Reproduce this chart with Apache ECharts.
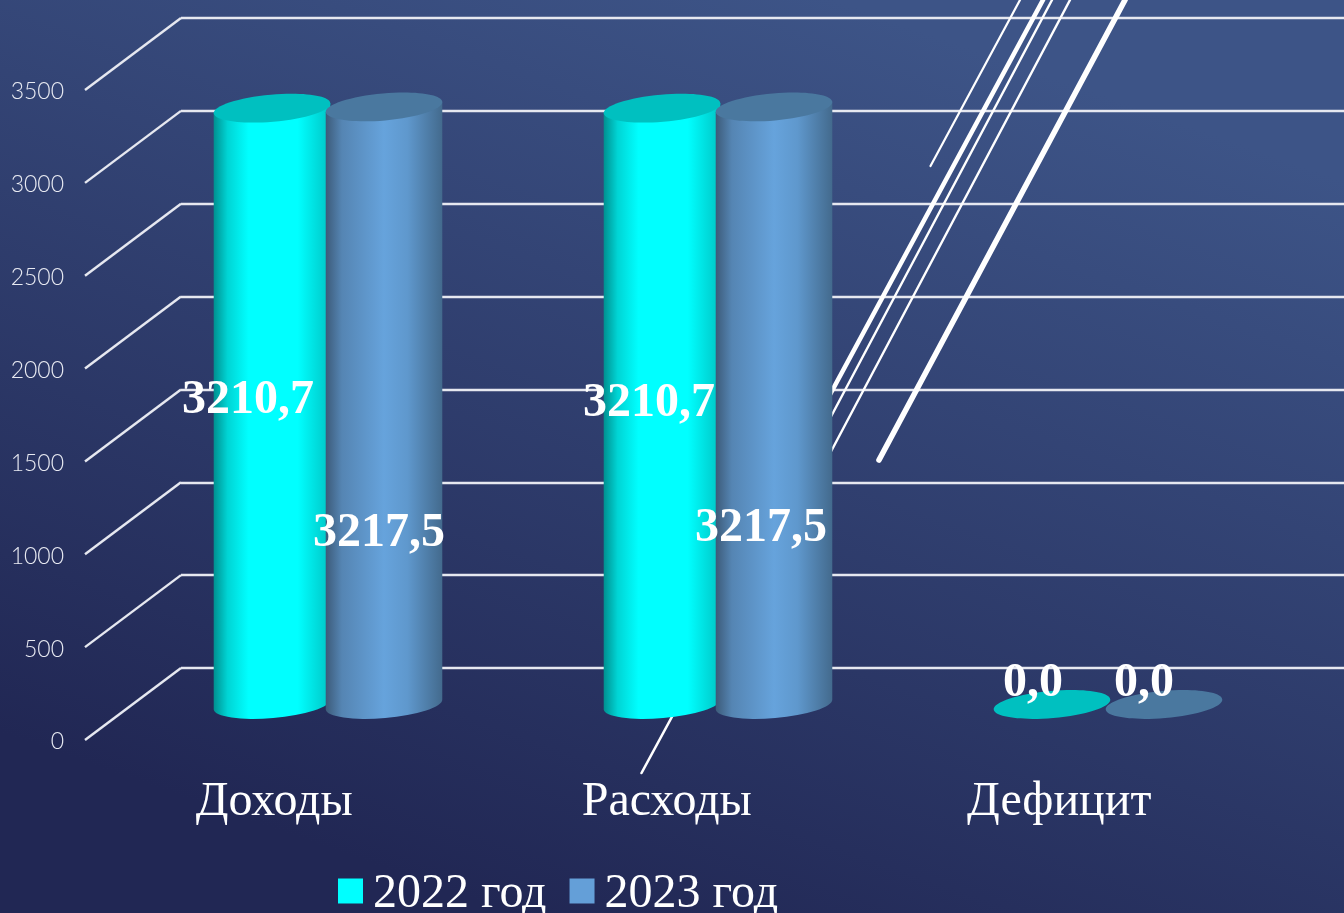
<!DOCTYPE html>
<html><head><meta charset="utf-8">
<style>html,body{margin:0;padding:0;background:#2c3765;overflow:hidden}#c{width:1344px;height:913px}</style>
<script src="https://cdn.jsdelivr.net/npm/echarts@6/dist/echarts.min.js"></script>
</head><body><div id="c"></div>
<script>
// ---- data ----
const categories = ['Доходы', 'Расходы', 'Дефицит'];
const seriesNames = ['2022 год', '2023 год'];
const values2022 = [3210.7, 3210.7, 0];
const values2023 = [3217.5, 3217.5, 0];
const tickInterval = 500;
const axisMax = 3500;

// ---- layout of the free-floating value labels (as in the reference) ----
const labelPos2022 = [[248, 401], [649, 404], [1033, 684]];
const labelPos2023 = [[379, 534], [761, 529], [1144, 684]];

// stray leader lines of the source slide: [x1,y1,x2,y2,width], in picture units
const leaderLines = [
  [930.5, 166, 1020, 0, 2.2],
  [826, 402, 1043, 0, 4.6],
  [826, 426, 1052, 0, 2.4],
  [826, 461, 1070, 0, 2.4],
  [879, 460, 1125, 0, 5.6],
  [641.5, 773, 674, 713, 2.6]
];

const SERIF = '"Liberation Serif","Times New Roman",serif';
const chart = echarts.init(document.getElementById('c'), null, {renderer: 'canvas'});

const styles = [
  {legend: '#00ffff', top: '#00c0c0', offset: -56, labels: labelPos2022, zBody: 4, zTop: 8,
   stops: [[0, '#008f8f'], [0.12, '#00d4d4'], [0.3, '#00ffff'], [0.72, '#00ffff'], [1, '#00c4c4']]},
  {legend: '#649fd8', top: '#4a789f', offset: 56, labels: labelPos2023, zBody: 5, zTop: 7,
   stops: [[0, '#3c5a78'], [0.14, '#5585b3'], [0.5, '#66a3dc'], [0.7, '#5f98cd'], [1, '#436a8d']]}
];
const fmt = v => v.toFixed(1).replace('.', ',');

function cylinder(style) {
  return function (params, api) {
    const base = api.coord([api.value(0), 0]);
    const top = api.coord([api.value(0), api.value(1)]);
    const cx = base[0] + style.offset;
    const rx = 58.5, ry = 13.5, rot = 5 * Math.PI / 180;
    const dx = rx * Math.cos(rot), dy = rx * Math.sin(rot);
    const children = [];
    if (base[1] - top[1] > 0) {
      children.push({
        type: 'path', z2: style.zBody,
        shape: {
          pathData: 'M' + (cx - dx) + ' ' + (top[1] + dy) +
            ' L' + (cx + dx) + ' ' + (top[1] - dy) +
            ' L' + (cx + dx) + ' ' + (base[1] - dy) +
            ' A' + rx + ' ' + ry + ' -5 0 1 ' + (cx - dx) + ' ' + (base[1] + dy) + ' Z',
          layout: 'none'
        },
        style: {fill: new echarts.graphic.LinearGradient(0, 0, 1, 0,
          style.stops.map(s => ({offset: s[0], color: s[1]})))}
      });
    }
    children.push({
      type: 'ellipse', z2: style.zTop,
      x: cx, y: top[1], rotation: rot,
      shape: {cx: 0, cy: 0, rx: rx, ry: ry},
      style: {fill: style.top}
    });
    const lp = style.labels[params.dataIndex];
    children.push({
      type: 'text', z2: 30, x: lp[0], y: lp[1],
      style: {text: fmt(api.value(1)), fill: '#ffffff', font: 'bold 48px ' + SERIF,
              align: 'center', verticalAlign: 'middle'}
    });
    return {type: 'group', children: children};
  };
}

function wallSides(params, api) {
  const p = api.coord([0, api.value(0)]);
  return {
    type: 'line',
    shape: {x1: params.coordSys.x + 7, y1: p[1], x2: 181, y2: p[1] - 72},
    style: {stroke: '#e6e8f0', lineWidth: 2.4}
  };
}

const ticks = [];
for (let v = 0; v <= axisMax; v += tickInterval) ticks.push(v);

const hiddenVal = {type: 'value', min: 0, max: axisMax, interval: tickInterval,
  axisLine: {show: false}, axisTick: {show: false}, axisLabel: {show: false}, splitLine: {show: false}};
const hiddenCat = {type: 'category', data: categories, axisLine: {show: false}, axisTick: {show: false},
  axisLabel: {show: false}, splitLine: {show: false}};

chart.setOption({
  animation: false,
  backgroundColor: new echarts.graphic.LinearGradient(0.38, 1, 0.62, 0, [
    {offset: 0, color: '#212754'}, {offset: 1, color: '#3d5487'}
  ]),
  legend: {
    data: seriesNames, left: 338, top: 870, padding: 0, itemGap: 23, itemWidth: 25, itemHeight: 25,
    icon: 'rect', selectedMode: false,
    formatter: '{a|{name}}',
    textStyle: {color: '#fff', fontFamily: SERIF, fontSize: 48,
      rich: {a: {color: '#fff', fontFamily: SERIF, fontSize: 48, padding: [6, 0, 0, 5]}}}
  },
  grid: [
    {left: 181, top: 18, width: 1163, height: 650},      // back wall
    {left: 133, top: 54.5, width: 1170, height: 650},    // column plane
    {left: 78, top: 90, width: 1177.5, height: 650},     // front edge
    {left: 0, top: 0, width: 1344, height: 913}          // picture-unit plane
  ],
  xAxis: [
    {gridIndex: 0, ...hiddenCat},
    {gridIndex: 1, ...hiddenCat},
    {gridIndex: 2, type: 'category', data: categories, axisLine: {show: false}, axisTick: {show: false},
     axisLabel: {color: '#fff', fontFamily: SERIF, fontSize: 48, margin: 38}},
    {gridIndex: 3, type: 'value', min: 0, max: 1344, show: false}
  ],
  yAxis: [
    {gridIndex: 0, ...hiddenVal, splitLine: {show: true, lineStyle: {color: '#e6e8f0', width: 2.4}}},
    {gridIndex: 1, ...hiddenVal},
    {gridIndex: 2, type: 'value', min: 0, max: axisMax, interval: tickInterval,
     axisLine: {show: false}, axisTick: {show: false}, splitLine: {show: false},
     axisLabel: {color: '#e8eaf2', fontFamily: 'Lato', fontWeight: 300, fontSize: 23, margin: 14,
                 formatter: v => '{a|' + v + '}',
                 rich: {a: {color: '#e8eaf2', fontFamily: 'Lato', fontWeight: 300, fontSize: 23, padding: [4, 0, 0, 0]}}}},
    {gridIndex: 3, type: 'value', min: 0, max: 913, inverse: true, show: false}
  ],
  series: [
    {type: 'custom', name: 'wall', silent: true, xAxisIndex: 2, yAxisIndex: 2, z: 1, clip: false,
     data: ticks.map(v => [v]), encode: {y: 0}, renderItem: wallSides},
    ...leaderLines.map(l => ({
      type: 'line', xAxisIndex: 3, yAxisIndex: 3, z: 1, silent: true, symbol: 'none', clip: false,
      lineStyle: {color: '#ffffff', width: l[4], cap: 'round'},
      data: [[l[0], l[1]], [l[2], l[3]]]
    })),
    {type: 'custom', name: seriesNames[0], xAxisIndex: 1, yAxisIndex: 1, z: 2, clip: false,
     itemStyle: {color: styles[0].legend},
     data: values2022.map((v, i) => [i, v]), encode: {x: 0, y: 1}, renderItem: cylinder(styles[0])},
    {type: 'custom', name: seriesNames[1], xAxisIndex: 1, yAxisIndex: 1, z: 2, clip: false,
     itemStyle: {color: styles[1].legend},
     data: values2023.map((v, i) => [i, v]), encode: {x: 0, y: 1}, renderItem: cylinder(styles[1])}
  ]
});
</script></body></html>
